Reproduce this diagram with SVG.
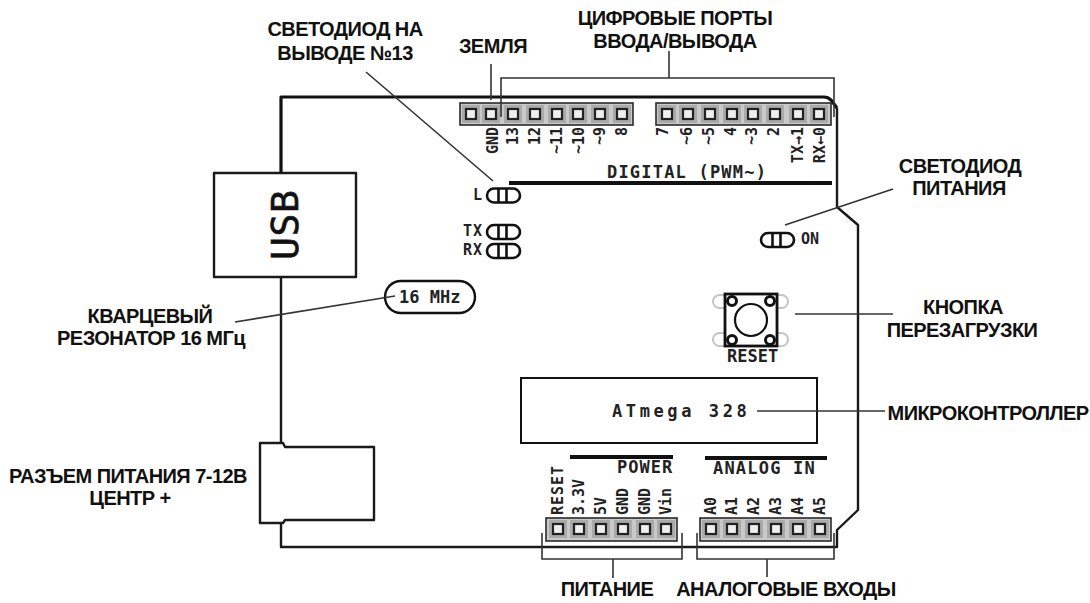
<svg xmlns="http://www.w3.org/2000/svg" width="1090" height="603" viewBox="0 0 1090 603">
<style>
.lb{font:bold 20px "Liberation Sans",Arial,sans-serif;fill:#111;text-anchor:middle;letter-spacing:-.55px}
.m{font:bold 15px "DejaVu Sans Mono",monospace;fill:#222}
.b{font-size:17px}
.v{text-anchor:end}
.s{text-anchor:start}
.e{fill:none;stroke:#1a1a1a;stroke-width:2.4;stroke-linejoin:round}
.th{fill:none;stroke:#111;stroke-width:3.2;stroke-linejoin:round}
.l{fill:none;stroke:#333;stroke-width:1.6}
.bar{stroke:#111;stroke-width:4;fill:none}
.hd{fill:#c9c9c9;stroke:#2a2a2a;stroke-width:1.6}
.pin{fill:#efefef;stroke:#222;stroke-width:2.2}
.led{fill:#fff;stroke:#111;stroke-width:2.6}
.g{fill:#fff;stroke:#c4c4c4;stroke-width:2}
</style>
<defs>
<g id="p"><rect x="-9" y="-9" width="18" height="18" fill="#aaa"/><rect x="-5" y="-5" width="10" height="10" class="pin"/></g>
<g id="ledg"><rect x="0" y="0" width="33" height="14" rx="7" class="led"/><path d="M11.500 0V14M19.500 0V14" class="led"/></g>
</defs>
<g id="board">
<path class="th" d="M281 172V97H824Q828 97 831 100L837 108"/>
<path class="e" d="M837 108V207L858 225V510L837 530V547H281V523"/>
<path class="e" d="M281 277V444"/>
</g>
<g id="usb">
<rect x="214" y="173" width="142" height="104" fill="#fff" class="e"/>
<text transform="translate(298 260) rotate(-90)" style="font:38px 'DejaVu Sans Mono',monospace;letter-spacing:.6px;fill:#111;stroke:#111;stroke-width:.6">USB</text>
</g>
<g id="power-jack">
<path class="e" d="M283 443H260V523H283L285 520H374V447H285Z" fill="#fff"/>
</g>
<g id="header-gnd13">
<rect x="460" y="103" width="173" height="22" class="hd"/>
<use href="#p" x="471" y="114"/><use href="#p" x="491" y="114"/><use href="#p" x="513" y="114"/><use href="#p" x="535" y="114"/><use href="#p" x="557" y="114"/><use href="#p" x="578" y="114"/><use href="#p" x="600" y="114"/><use href="#p" x="622" y="114"/>
<text class="m v" transform="translate(498 127) rotate(-90)">GND</text>
<text class="m v" transform="translate(518 127) rotate(-90)">13</text>
<text class="m v" transform="translate(540 127) rotate(-90)">12</text>
<text class="m v" transform="translate(562 127) rotate(-90)">~11</text>
<text class="m v" transform="translate(584 127) rotate(-90)">~10</text>
<text class="m v" transform="translate(605 127) rotate(-90)">~9</text>
<text class="m v" transform="translate(627 127) rotate(-90)">8</text>
</g>
<g id="header-digital">
<rect x="656" y="103" width="175" height="22" class="hd"/>
<use href="#p" x="667" y="114"/><use href="#p" x="688" y="114"/><use href="#p" x="710" y="114"/><use href="#p" x="732" y="114"/><use href="#p" x="753" y="114"/><use href="#p" x="775" y="114"/><use href="#p" x="798" y="114"/><use href="#p" x="819" y="114"/>
<text class="m v" transform="translate(668 127) rotate(-90)">7</text>
<text class="m v" transform="translate(692 127) rotate(-90)">~6</text>
<text class="m v" transform="translate(714 127) rotate(-90)">~5</text>
<text class="m v" transform="translate(736 127) rotate(-90)">4</text>
<text class="m v" transform="translate(757 127) rotate(-90)">~3</text>
<text class="m v" transform="translate(779 127) rotate(-90)">2</text>
<text class="m v" transform="translate(803 127) rotate(-90)">TX→1</text>
<text class="m v" transform="translate(825 127) rotate(-90)">RX←0</text>
<path class="bar" d="M509 183H832"/>
<text x="607" y="178" class="m b" style="letter-spacing:1.2px">DIGITAL (PWM~)</text>
</g>
<g id="led-l"><use href="#ledg" x="487" y="188.500"/><text x="473" y="200" class="m">L</text></g>
<g id="led-tx"><use href="#ledg" x="487" y="225"/><text x="463" y="236" class="m" style="letter-spacing:1px">TX</text></g>
<g id="led-rx"><use href="#ledg" x="487" y="244"/><text x="463" y="255" class="m" style="letter-spacing:1px">RX</text></g>
<g id="led-on"><use href="#ledg" x="761" y="233"/><text x="801" y="244" class="m">ON</text></g>
<g id="crystal"><rect x="385" y="281" width="90" height="32" rx="16" fill="#fff" stroke="#111" stroke-width="2.400"/><text x="399" y="303" class="m b">16 MHz</text></g>
<g id="reset">
<rect x="713" y="295" width="75" height="13" rx="6.500" class="g"/><rect x="713" y="333" width="75" height="13" rx="6.500" class="g"/>
<rect x="725" y="294" width="52" height="52" fill="#fff" stroke="#111" stroke-width="2.800"/>
<circle cx="751" cy="320" r="16" fill="none" stroke="#111" stroke-width="2.200"/>
<g fill="#fff" stroke="#111" stroke-width="3"><circle cx="732" cy="301" r="4.500"/><circle cx="770" cy="301" r="4.500"/><circle cx="732" cy="340" r="4.500"/><circle cx="770" cy="340" r="4.500"/></g>
<text x="727" y="362" class="m b">RESET</text>
</g>
<g id="atmega"><rect x="521" y="378" width="296" height="65" fill="#fff" stroke="#111" stroke-width="2"/><text x="612" y="417" class="m b" style="letter-spacing:3.6px">ATmega 328</text></g>
<g id="header-power">
<rect x="546" y="518" width="131" height="23" class="hd"/>
<use href="#p" x="558" y="529"/><use href="#p" x="579" y="529"/><use href="#p" x="601" y="529"/><use href="#p" x="623" y="529"/><use href="#p" x="645" y="529"/><use href="#p" x="666" y="529"/>
<text class="m s" transform="translate(563 515) rotate(-90)" style="letter-spacing:1px">RESET</text>
<text class="m s" transform="translate(584 515) rotate(-90)">3.3V</text>
<text class="m s" transform="translate(606 515) rotate(-90)">5V</text>
<text class="m s" transform="translate(628 515) rotate(-90)">GND</text>
<text class="m s" transform="translate(650 515) rotate(-90)">GND</text>
<text class="m s" transform="translate(671 515) rotate(-90)">Vin</text>
<path class="bar" d="M570 457H673"/>
<text x="617" y="473" class="m b" style="letter-spacing:1px">POWER</text>
</g>
<g id="header-analog">
<rect x="700" y="518" width="131" height="23" class="hd"/>
<use href="#p" x="711" y="529"/><use href="#p" x="732" y="529"/><use href="#p" x="754" y="529"/><use href="#p" x="776" y="529"/><use href="#p" x="798" y="529"/><use href="#p" x="820" y="529"/>
<text class="m s" transform="translate(716 515) rotate(-90)">A0</text>
<text class="m s" transform="translate(737 515) rotate(-90)">A1</text>
<text class="m s" transform="translate(759 515) rotate(-90)">A2</text>
<text class="m s" transform="translate(781 515) rotate(-90)">A3</text>
<text class="m s" transform="translate(803 515) rotate(-90)">A4</text>
<text class="m s" transform="translate(825 515) rotate(-90)">A5</text>
<path class="bar" d="M705 458H827"/>
<text x="713" y="474" class="m b" style="letter-spacing:1.2px">ANALOG IN</text>
</g>
<g id="connectors">
<path class="l" d="M491 64V100"/>
<path class="l" d="M669 51V78M501 117V78H834V117"/>
<path class="l" d="M366 72L493 181"/>
<path class="l" d="M785 225L893 189"/>
<path class="l" d="M235 322L395 296"/>
<path class="l" d="M795 314H893"/>
<path class="l" d="M757 411H885"/>
<path class="l" d="M542 533V559H682V533M613 559V578"/>
<path class="l" d="M697 533V559H834V533M767 559V577"/>
</g>
<g id="labels">
<text class="lb" x="675" y="25">ЦИФРОВЫЕ ПОРТЫ</text>
<text class="lb" x="675" y="48">ВВОДА/ВЫВОДА</text>
<text class="lb" x="493" y="53">ЗЕМЛЯ</text>
<text class="lb" x="345" y="36">СВЕТОДИОД НА</text>
<text class="lb" x="345" y="60">ВЫВОДЕ №13</text>
<text class="lb" x="960" y="173">СВЕТОДИОД</text>
<text class="lb" x="959" y="195">ПИТАНИЯ</text>
<text class="lb" x="150" y="323">КВАРЦЕВЫЙ</text>
<text class="lb" x="151" y="345">РЕЗОНАТОР 16 МГц</text>
<text class="lb" x="963" y="314">КНОПКА</text>
<text class="lb" x="962" y="337">ПЕРЕЗАГРУЗКИ</text>
<text class="lb" x="988" y="420">МИКРОКОНТРОЛЛЕР</text>
<text class="lb" x="128" y="483">РАЗЪЕМ ПИТАНИЯ 7-12В</text>
<text class="lb" x="130" y="505">ЦЕНТР +</text>
<text class="lb" x="607" y="596">ПИТАНИЕ</text>
<text class="lb" x="786" y="596">АНАЛОГОВЫЕ ВХОДЫ</text>
</g>
</svg>
